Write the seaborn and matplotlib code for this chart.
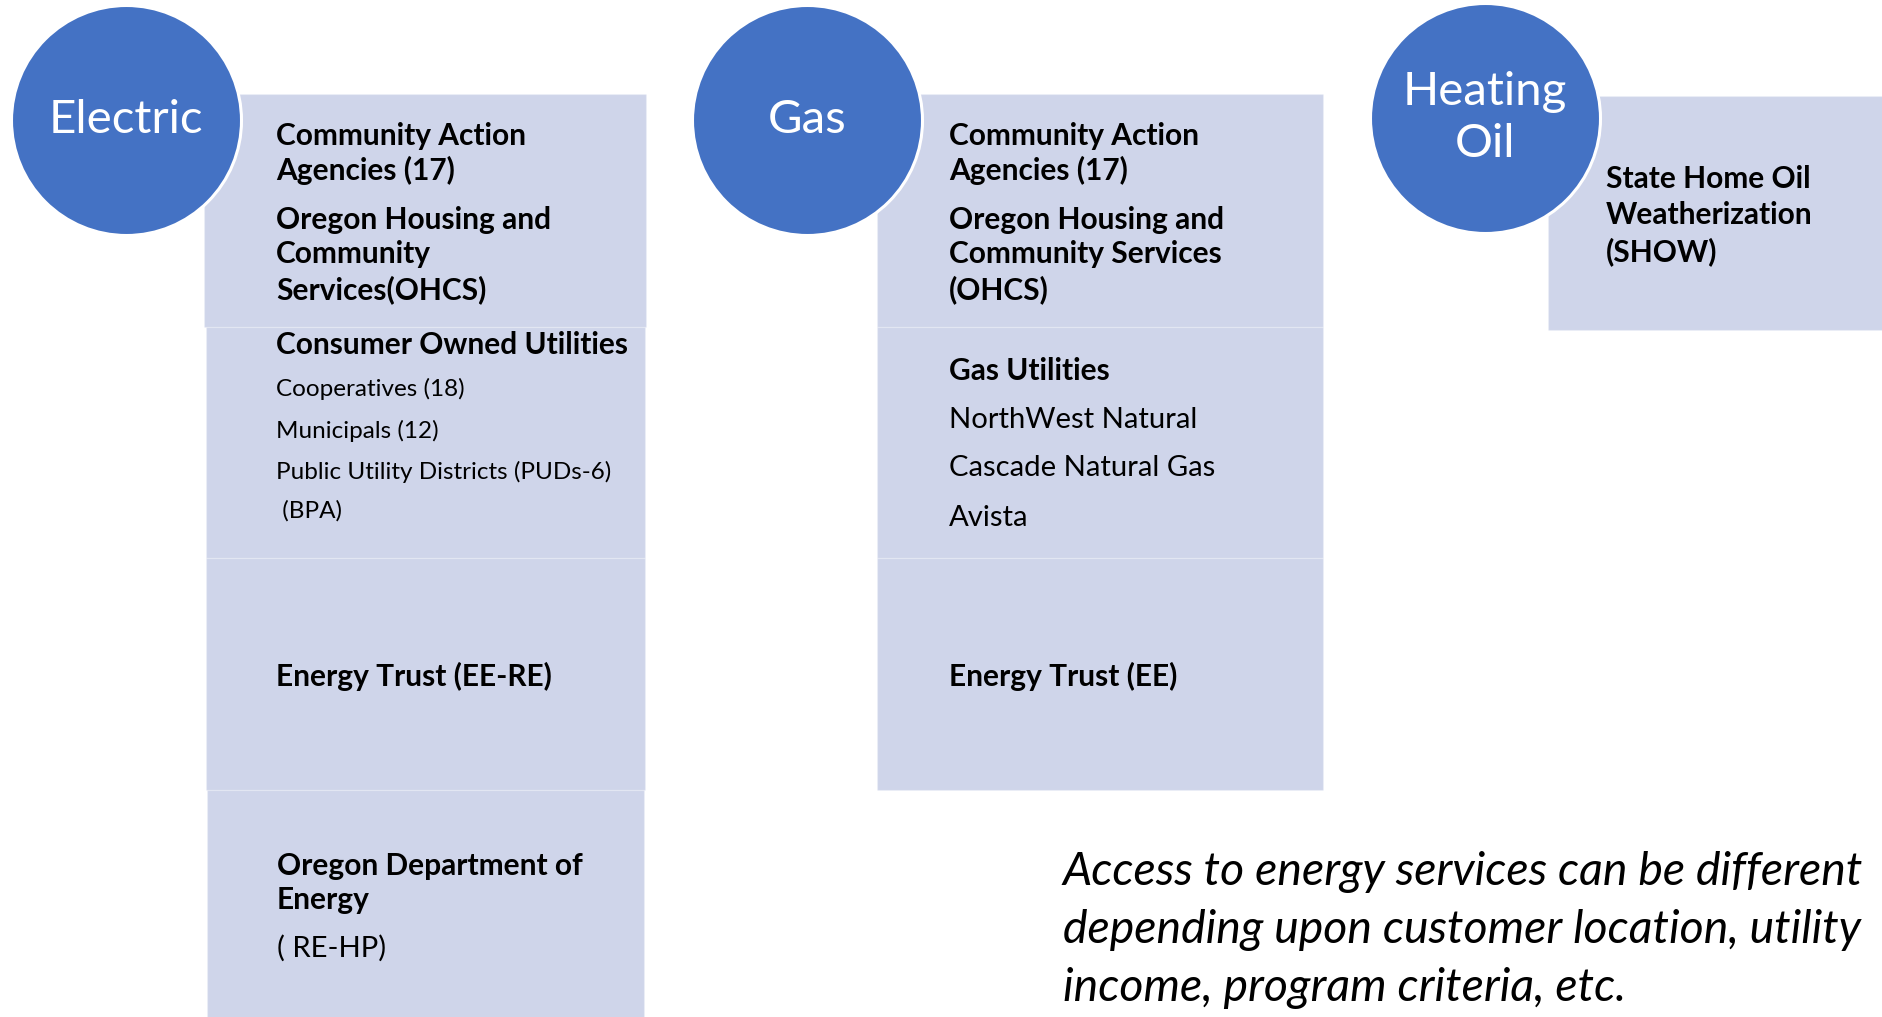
import matplotlib
matplotlib.use("Agg")
import matplotlib.pyplot as plt
from matplotlib.textpath import TextPath
from matplotlib.font_manager import FontProperties
import seaborn as sns
import pandas as pd

# ---------------- data (text content) ----------------
circle_labels = ["Electric", "Gas", "Heating\nOil"]

electric_box1 = ["Community Action", "Agencies (17)", "Oregon Housing and", "Community", "Services(OHCS)"]
electric_box2_head = ["Consumer Owned Utilities"]
electric_box2_items = ["Cooperatives (18)", "Municipals (12)", "Public Utility Districts (PUDs-6)", " (BPA)"]
electric_box3 = ["Energy Trust (EE-RE)"]
electric_box4_head = ["Oregon Department of", "Energy"]
electric_box4_items = ["( RE-HP)"]

gas_box1 = ["Community Action", "Agencies (17)", "Oregon Housing and", "Community Services", "(OHCS)"]
gas_box2_head = ["Gas Utilities"]
gas_box2_items = ["NorthWest Natural", "Cascade Natural Gas", "Avista"]
gas_box3 = ["Energy Trust (EE)"]

oil_box1 = ["State Home Oil", "Weatherization", "(SHOW)"]

note_lines = ["Access to energy services can be different",
              "depending upon customer location, utility",
              "income, program criteria, etc."]

# ---------------- styling / layout ----------------
W, H, DPI = 1883, 1017, 100
CIRCLE = "#4472C4"
BOX = "#CFD5EA"
FAM = ["Lato", "DejaVu Sans"]

sns.set_theme(style="white")
plt.rcParams["font.family"] = FAM

fig = plt.figure(figsize=(W / DPI, H / DPI), dpi=DPI)
ax = fig.add_axes([0, 0, 1, 1])
ax.set_xlim(0, W)
ax.set_ylim(H, 0)
ax.axis("off")


def fit_size(s, target_px, weight="normal", style="normal"):
    fp = FontProperties(family="Lato", weight=weight, style=style)
    w = TextPath((0, 0), s, size=10, prop=fp).get_extents().width * DPI / 72.0
    return 10 * target_px / w


SZ_BOLD = fit_size("Community Action", 247, weight="bold")
SZ_SMALL = fit_size("Public Utility Districts (PUDs-6)", 331)
SZ_MED = fit_size("Cascade Natural Gas", 264)
SZ_CIRC = fit_size("Electric", 149)
SZ_NOTE = fit_size("Access to energy services can be different", 801, style="italic")

# boxes: (x_left, x_right, y_top, y_bottom)
boxes = pd.DataFrame({
    "x0": [204, 206, 206, 207, 877, 877, 877, 1548],
    "x1": [646, 645, 645, 644, 1323, 1323, 1323, 1900],
    "y0": [94, 327, 558, 790, 94, 327, 558, 96],
    "y1": [327, 558, 790, 1030, 327, 558, 790, 330],
})
ax.bar(x=(boxes.x0 + boxes.x1) / 2, height=boxes.y1 - boxes.y0, bottom=boxes.y0,
       width=boxes.x1 - boxes.x0, color=BOX, edgecolor=(1, 1, 1, 0.2), linewidth=1.0, zorder=1)

# circles via seaborn scatter (marker size in points^2)
circ = pd.DataFrame({"x": [126, 807, 1485], "y": [120, 120, 118], "label": circle_labels})
r_px = 115
d_pt = 2 * r_px * 72 / DPI
sns.scatterplot(data=circ, x="x", y="y", s=d_pt ** 2, color=CIRCLE, edgecolor="white",
                linewidth=2.2, ax=ax, zorder=3, legend=False)
for _, row in circ.iterrows():
    ax.text(row.x, row.y, row.label, color="white", fontsize=SZ_CIRC, ha="center",
            va="center", linespacing=1.3, zorder=4)


def put(lines, x, ys, size, weight="normal"):
    for s, y in zip(lines, ys):
        ax.text(x, y, s, fontsize=size, fontweight=weight, ha="left", va="center_baseline",
                color="black", zorder=2)


# Electric column
put(electric_box1, 276, [133, 168, 217, 252, 287], SZ_BOLD, "bold")
put(electric_box2_head, 276, [342], SZ_BOLD, "bold")
put(electric_box2_items, 276, [387, 429, 470, 509], SZ_SMALL)
put(electric_box3, 276, [674], SZ_BOLD, "bold")
put(electric_box4_head, 277, [863, 898], SZ_BOLD, "bold")
put(electric_box4_items, 277, [946], SZ_MED)

# Gas column
put(gas_box1, 949, [133, 168, 217, 252, 287], SZ_BOLD, "bold")
put(gas_box2_head, 949, [369], SZ_BOLD, "bold")
put(gas_box2_items, 949, [417, 466, 515], SZ_MED)
put(gas_box3, 949, [674], SZ_BOLD, "bold")

# Heating oil column
put(oil_box1, 1606, [177, 213, 249], SZ_BOLD, "bold")

# note
for s, y in zip(note_lines, [868, 926, 984]):
    ax.text(1063, y, s, fontsize=SZ_NOTE, style="italic", ha="left", va="center_baseline",
            color="black", zorder=2, clip_on=True)

fig.savefig("out.png", dpi=DPI)
